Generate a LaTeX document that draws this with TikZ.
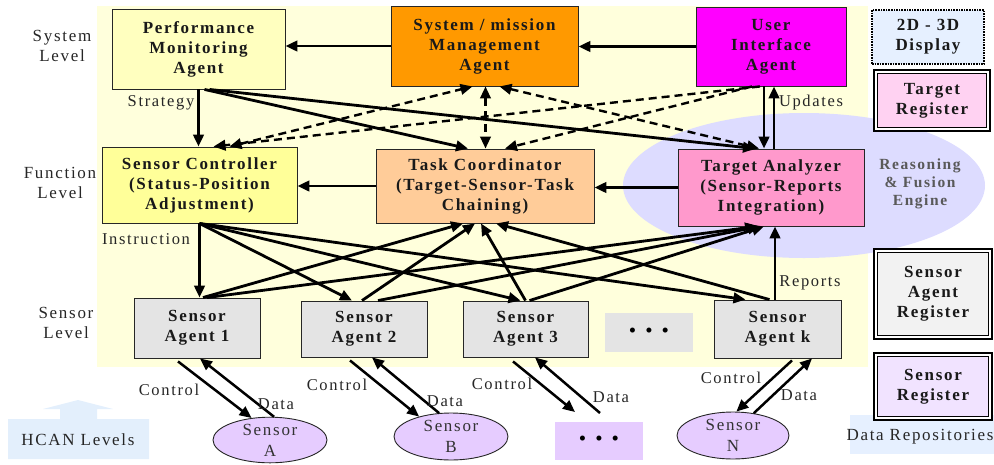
\documentclass[tikz,border=0pt]{standalone}
\usepackage{fontspec}
\setmainfont{Liberation Serif}[LetterSpace=10]
\usetikzlibrary{arrows.meta,shapes.geometric,calc}
\definecolor{bgyel}{HTML}{FFFFDC}
\definecolor{pmac}{HTML}{FFFFBF}
\definecolor{smac}{HTML}{FF9900}
\definecolor{uiac}{HTML}{FF00FF}
\definecolor{scc}{HTML}{FFFF99}
\definecolor{tcc}{HTML}{FFCC99}
\definecolor{tac}{HTML}{FF99CC}
\definecolor{fusec}{HTML}{DDDCFF}
\definecolor{sac}{HTML}{E4E4E4}
\definecolor{sarc}{HTML}{F2F2F2}
\definecolor{src}{HTML}{F1E3FF}
\definecolor{trc}{HTML}{FFD2F2}
\definecolor{dispc}{HTML}{E6F0FF}
\definecolor{senc}{HTML}{E6CCFF}
\definecolor{hcanc}{HTML}{E3EFFC}
\begin{document}
\begin{tikzpicture}[x=1pt,y=-1pt,
  >={Triangle[length=12pt,width=10.5pt]},
  box/.style={draw=black!85, line width=0.9pt, align=center, inner sep=0pt,
    font=\fontsize{17}{20}\selectfont\bfseries, text=black!90},
  dots/.style={draw=none, align=center, inner sep=0pt,
    font=\fontsize{21}{21}\selectfont, text=black},
  reg/.style={draw=black, double=white, line width=1.7pt, double distance=1.8pt,
    align=center, inner sep=0pt, font=\fontsize{17}{20}\selectfont\bfseries, text=black!90},
  lvl/.style={align=center, inner sep=0pt, font=\fontsize{17}{20}\selectfont, text=black!85},
  lab/.style={inner sep=0pt, font=\fontsize{16.5}{20}\selectfont, text=black!85},
  sens/.style={ellipse, draw=black!85, line width=0.9pt, fill=senc, inner sep=0pt,
    align=center, font=\fontsize{17}{21}\selectfont, text=black!80},
  conn/.style={line width=2.8pt, ->},
  dconn/.style={line width=2.4pt, dash pattern=on 8pt off 5pt},
  sconn/.style={line width=2.5pt, ->}
]
\useasboundingbox (0,0) rectangle (994,464);
% backgrounds
\fill[bgyel] (97,6) rectangle (868,367);
\node[ellipse, fill=fusec, minimum width=362pt, minimum height=145pt, inner sep=0pt] (RFE) at (804,185.5) {};
\node[align=center, inner sep=0pt, font=\fontsize{15.5}{18}\selectfont\bfseries, text=black!65] (RFEt) at (920,184) {Reasoning\\\& Fusion\\Engine};
\fill[hcanc] (8,419) -- (60,419) -- (60,409) -- (43,409) -- (78,400) -- (113,409) -- (97,409) -- (97,419) -- (149,419) -- (149,459) -- (8,459) -- cycle;
\node[lvl] (HCAN) at (78,440) {HCAN Levels};
\fill[dispc] (850,415) rectangle (994,454);
\node[lvl] (DR) at (920,437) {Data Repositories};

% level labels
\node[lvl] (LS) at (62,45.5) {System\\Level};
\node[lvl] (LF) at (60,183) {Function\\Level};
\node[lvl] (LSe) at (66,323) {Sensor\\Level};

% system level
\node[box, fill=pmac, minimum width=173pt, minimum height=80pt] (PMA) at (198.5,49) {Performance\\Monitoring\\Agent};
\node[box, fill=smac, minimum width=187pt, minimum height=80pt] (SMA) at (484.5,46) {System / mission\\Management\\Agent};
\node[box, fill=uiac, minimum width=150pt, minimum height=79pt] (UIA) at (771,46.5) {User\\Interface\\Agent};
\node[box, fill=dispc, draw=black, line width=1.6pt, densely dotted, minimum width=112pt, minimum height=54pt] (DISP) at (928,37) {2D - 3D\\Display};
\node[reg, fill=trc, minimum width=112.6pt, minimum height=57.6pt] (TREG) at (932,100.5) {Target\\Register};

% function level
\node[box, fill=scc, minimum width=195pt, minimum height=76pt] (SC) at (199.5,185) {Sensor Controller\\(Status-Position\\Adjustment)};
\node[box, fill=tcc, minimum width=218pt, minimum height=74pt] (TC) at (485,186) {Task Coordinator\\(Target-Sensor-Task\\Chaining)};
\node[box, fill=tac, minimum width=186pt, minimum height=77pt] (TA) at (771,187.5) {Target Analyzer\\(Sensor-Reports\\Integration)};

% sensor level
\node[box, fill=sac, minimum width=126pt, minimum height=60pt] (SA1) at (197,328) {Sensor\\Agent 1};
\node[box, fill=sac, minimum width=126pt, minimum height=56pt] (SA2) at (364,329) {Sensor\\Agent 2};
\node[box, fill=sac, minimum width=125pt, minimum height=56pt] (SA3) at (525.5,329) {Sensor\\Agent 3};
\node[dots, fill=sac, minimum width=88pt, minimum height=39pt] (SAD) at (649,332.5) {•\hspace{9pt}•\hspace{9pt}•};
\node[box, fill=sac, minimum width=127pt, minimum height=58pt] (SAK) at (777.5,329) {Sensor\\Agent k};
\node[reg, fill=sarc, minimum width=114.6pt, minimum height=86.6pt] (SAREG) at (933,294) {Sensor\\Agent\\Register};
\node[reg, fill=src, minimum width=114.6pt, minimum height=63.6pt] (SREG) at (933,386.5) {Sensor\\Register};

% sensors
\node[sens, minimum width=114pt, minimum height=45pt] (SENA) at (270,440) {Sensor\\A};
\node[sens, minimum width=114pt, minimum height=47pt] (SENB) at (451,436.5) {Sensor\\B};
\node[dots, fill=senc, minimum width=88pt, minimum height=38pt] (SEND) at (599,441) {•\hspace{9pt}•\hspace{9pt}•};
\node[sens, minimum width=112pt, minimum height=47pt] (SENN) at (733,435.5) {Sensor\\N};
\coordinate (C3) at (575,412);
\coordinate (D3) at (600,413);

% system level connectors
\draw[conn] (SMA.west) -- (SMA.west -| PMA.east);
\draw[conn] (UIA.west) -- (UIA.west -| SMA.east);
\draw[conn] (PMA.south) -- (PMA.south |- SC.north);
\draw[conn] ([xshift=6pt]PMA.south) -- ([xshift=-17pt]TC.north);
\draw[conn] ([xshift=11pt]PMA.south) -- ([xshift=-16pt]TA.north);
\node[lab] (STR) at (161,103) {Strategy};

% dashed
\draw[dconn,<->] ([xshift=30pt]SC.north) -- ([xshift=-12pt]SMA.south);
\draw[dconn,->] ([xshift=-11pt]UIA.south) -- ([xshift=14pt]SC.north);
\draw[dconn,<->] ([xshift=1pt]SMA.south) -- ([xshift=1pt]SMA.south |- TC.north);
\draw[dconn,<->] ([xshift=15pt]SMA.south) -- ([xshift=-12pt]TA.north);
\draw[dconn,->] ([xshift=-19pt]UIA.south) -- ([xshift=20pt]TC.north);

% updates
\draw[conn] ([xshift=-7pt]UIA.south) -- ([xshift=-7pt]TA.north);
\draw[conn] ([xshift=3pt]TA.north) -- ([xshift=3pt]UIA.south);
\node[lab] (UPD) at (811,103) {Updates};

% function level horizontal
\draw[conn] (TC.west) -- (TC.west -| SC.east);
\draw[conn] (TA.west) -- (TA.west -| TC.east);

% instruction fan
\draw[conn] (SC.south) -- (SC.south |- SA1.north);
\draw[conn] (SC.south) -- ([xshift=-12pt]SA2.north);
\draw[conn] (SC.south) -- ([xshift=-5pt]SA3.north);
\draw[conn] (SC.south) -- ([xshift=-32pt]SAK.north);
\node[lab] (INS) at (146,239) {Instruction};

% to task coordinator
\draw[conn] ([xshift=6pt]SA1.north) -- ([xshift=-22pt]TC.south);
\draw[conn] ([xshift=-2pt]SA2.north) -- ([xshift=-10pt]TC.south);
\draw[conn] (SA3.north) -- ([xshift=-4pt]TC.south);
\draw[conn] ([xshift=-8pt]SAK.north) -- ([xshift=11pt]TC.south);

% to target analyzer
\draw[conn] ([xshift=10pt]SA1.north) -- ([xshift=-14pt]TA.south);
\draw[conn] ([xshift=14pt]SA2.north) -- ([xshift=-11pt]TA.south);
\draw[conn] ([xshift=4pt]SA3.north) -- ([xshift=-7pt]TA.south);
\draw[conn] ([xshift=-2.5pt]SAK.north) -- ([xshift=-2.5pt]SAK.north |- TA.south);
\node[lab] (REP) at (810,283) {Reports};

% control / data
\draw[sconn] ([xshift=-19pt,yshift=-3pt]SA1.south) -- (SENA.130);
\draw[sconn] (SENA.80) -- ([xshift=3pt]SA1.south);
\node[lab] (CA) at (169,390) {Control};
\node[lab] (DA) at (276,404) {Data};

\draw[sconn] ([xshift=-14pt,yshift=-3pt]SA2.south) -- (SENB.148);
\draw[sconn] (SENB.117) -- ([xshift=8pt]SA2.south);
\node[lab] (CB) at (337,385) {Control};
\node[lab] (DB) at (445,401) {Data};

\draw[sconn] ([xshift=-12.5pt,yshift=-4pt]SA3.south) -- (C3);
\draw[sconn] (D3) -- ([xshift=9.5pt]SA3.south);
\node[lab] (C3L) at (502,384) {Control};
\node[lab] (D3L) at (611,397) {Data};

\draw[sconn] ([xshift=14.5pt,yshift=-2pt]SAK.south) -- (SENN.82);
\draw[sconn] (SENN.47) -- ([xshift=34.5pt]SAK.south);
\node[lab] (CN) at (731,378) {Control};
\node[lab] (DN) at (799,395) {Data};
\end{tikzpicture}
\end{document}
